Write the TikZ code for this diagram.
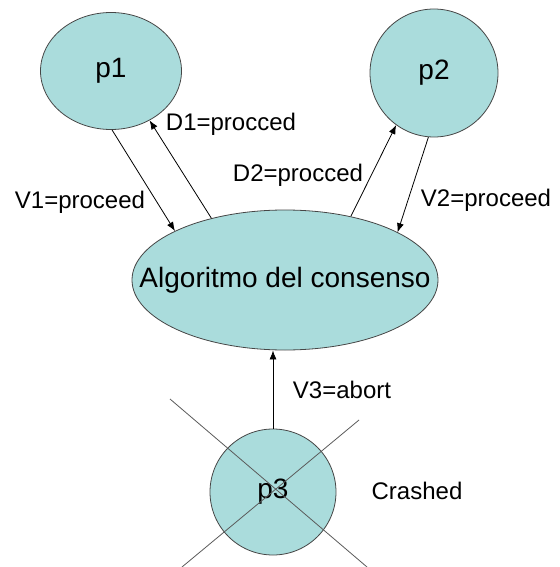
\documentclass[tikz,border=0pt]{standalone}
\usepackage{fontspec}
\setmainfont{Liberation Sans}
\usetikzlibrary{arrows.meta,shapes.geometric}
\definecolor{procfill}{RGB}{170,220,220}
\definecolor{procline}{RGB}{70,70,70}
\definecolor{crossline}{RGB}{90,90,90}

\begin{document}
\begin{tikzpicture}[x=1pt,y=-1pt]
\tikzstyle{proc}=[ellipse,draw=procline,fill=procfill,line width=0.8pt,inner sep=0pt,font=\fontsize{28}{32}\selectfont]
\tikzstyle{msg}=[font=\fontsize{24}{28}\selectfont,inner sep=0pt]
\useasboundingbox (0,0) rectangle (559,567);

\node[proc,minimum width=141pt,minimum height=117pt] (p1) at (111,71) {p1};
\node[proc,minimum size=128pt] (p2) at (434,73) {p2};
\node[proc,minimum width=306pt,minimum height=140pt,
  label={[font=\fontsize{28}{32}\selectfont]center:Algoritmo del consenso}] (alg) at (285,280) {};
\node[proc,minimum size=126pt] (p3) at (273,492) {p3};

\node[msg] (v1) at (80,202) {V1=proceed};
\node[msg] (d1) at (231,124) {D1=procced};
\node[msg] (d2) at (298,175) {D2=procced};
\node[msg] (v2) at (486,200) {V2=proceed};
\node[msg] (v3) at (342,390) {V3=abort};
\node[msg] (crash) at (417,491) {Crashed};

\path[->,>={Latex[length=9pt,width=7pt]},line width=0.8pt]
  (p1.-89) edge (alg.156)
  (alg.140) edge (p1.-52)
  (alg.44) edge (p2.-126)
  (p2.-95) edge (alg.23)
  (p3.north) edge (p3.north |- alg.south)
;

% crossed out
\coordinate (x1) at (170,399);
\coordinate (x2) at (367,567);
\coordinate (x3) at (359,420);
\coordinate (x4) at (182,567);
\draw[crossline,line width=0.8pt] (x1) -- (x2) (x3) -- (x4);
\end{tikzpicture}
\end{document}
